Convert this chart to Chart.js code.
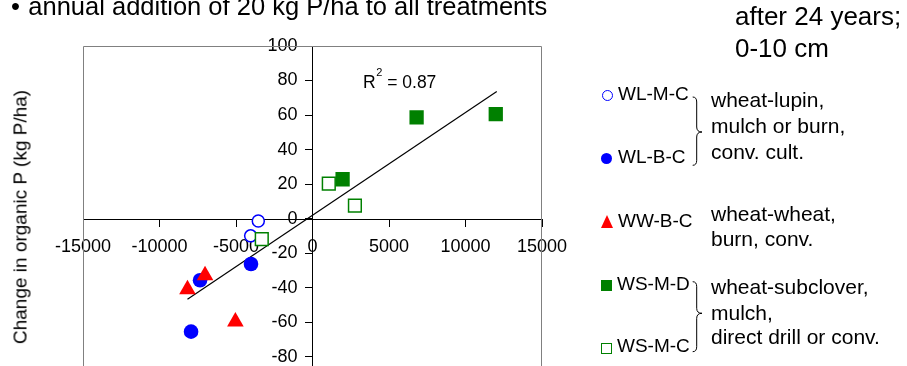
<!DOCTYPE html>
<html>
<head>
<meta charset="utf-8">
<script src="https://cdn.jsdelivr.net/npm/chart.js@4.4.0/dist/chart.umd.min.js"></script>
<style>
  html, body { margin: 0; padding: 0; background: #fff; overflow: hidden; }
  body { width: 907px; height: 366px; position: relative; font-family: "Liberation Sans", Arial, sans-serif; color: #000; }
  #wrap { position: absolute; left: 0; top: 0; width: 907px; height: 410px; }
  .t { position: absolute; white-space: nowrap; line-height: 1; }
  .lab { font-size: 19px; }
  .desc { font-size: 21px; }
  .big { font-size: 26px; }
  .mk { position: absolute; box-sizing: border-box; }
</style>
</head>
<body>
<div id="wrap"><canvas id="c" width="907" height="410"></canvas></div>

<!-- titles -->
<div class="t" style="left:11px; top:-6.2px; font-size:25.5px;">&bull;</div>
<div class="t" style="left:28.3px; top:-6.2px; font-size:25.5px;">annual addition of 20 kg P/ha to all treatments</div>
<div class="t big" style="left:735px; top:3px;">after 24 years;</div>
<div class="t big" style="left:735px; top:34.7px;">0-10 cm</div>

<!-- y axis title -->
<div class="t" style="left:20.1px; top:217px; font-size:19px; transform: translate(-50%,-50%) rotate(-90deg);">Change in organic P (kg P/ha)</div>

<!-- legend markers -->
<div class="mk" style="left:601.5px; top:90.3px; width:11px; height:11px; border:1.5px solid #0000ff; border-radius:50%; background:#fff;"></div>
<div class="mk" style="left:601.2px; top:152.5px; width:11px; height:11px; border-radius:50%; background:#0000ff;"></div>
<div class="mk" style="left:600.7px; top:215px; width:0; height:0; border-left:6.7px solid transparent; border-right:6.7px solid transparent; border-bottom:13.3px solid #ff0000;"></div>
<div class="mk" style="left:601px; top:280px; width:11px; height:11px; background:#008000;"></div>
<div class="mk" style="left:601px; top:342.5px; width:11px; height:11px; border:1.5px solid #008000; background:#fff;"></div>

<!-- legend labels -->
<div class="t lab" style="left:618px; top:84.2px;">WL-M-C</div>
<div class="t lab" style="left:618px; top:146.9px;">WL-B-C</div>
<div class="t lab" style="left:618px; top:210.6px;">WW-B-C</div>
<div class="t lab" style="left:617px; top:273.9px;">WS-M-D</div>
<div class="t lab" style="left:617px; top:335.6px;">WS-M-C</div>

<!-- braces -->
<svg style="position:absolute; left:0; top:0;" width="907" height="366">
  <path d="M692.7,97 Q696.7,97 696.7,102 L696.7,127 Q696.7,132 702,132 Q696.7,132 696.7,137 L696.7,160.3 Q696.7,165.3 692.7,165.3" fill="none" stroke="#000" stroke-width="1"/>
  <path d="M692.7,281.7 Q696.7,281.7 696.7,286.7 L696.7,308.3 Q696.7,313.3 702,313.3 Q696.7,313.3 696.7,318.3 L696.7,346.7 Q696.7,351.7 692.7,351.7" fill="none" stroke="#000" stroke-width="1"/>
</svg>

<!-- descriptions -->
<div class="t desc" style="left:711px; top:88.7px;">wheat-lupin,</div>
<div class="t desc" style="left:711px; top:114.7px;">mulch or burn,</div>
<div class="t desc" style="left:711px; top:140.5px;">conv. cult.</div>
<div class="t desc" style="left:711px; top:202.9px;">wheat-wheat,</div>
<div class="t desc" style="left:711px; top:228.2px;">burn, conv.</div>
<div class="t desc" style="left:711px; top:276.2px;">wheat-subclover,</div>
<div class="t desc" style="left:711px; top:301.5px;">mulch,</div>
<div class="t desc" style="left:711px; top:326.2px;">direct drill or conv.</div>

<script>
// change in total C (x) vs change in organic P (y)
const wlmcX = [-3543, -4043];
const wlmcY = [-1.4, -10.0];
const wlbcX = [-7350, -4020, -7937];
const wlbcY = [-35.7, -26.3, -65.5];
const wwbcX = [-7024, -8172, -5041];
const wwbcY = [-32.9, -41.0, -59.7];
const wsmdX = [1967, 6804, 11978];
const wsmdY = [22.8, 58.7, 60.5];
const wsmcX = [1065, 2772, -3315];
const wsmcY = [20.3, 7.5, -11.9];

// fitted line end points
const trendX = [-8172, 12043];
const trendY = [-46.7, 73.7];

const xTickValues = [-15000, -10000, -5000, 0, 5000, 10000, 15000];
const yTickValues = [-100, -80, -60, -40, -20, 0, 20, 40, 60, 80, 100];

const r2Label = { x: 3307, y: 75.8, base: 'R', sup: '2', rest: ' = 0.87' };

const FONT = '"Liberation Sans", Arial, sans-serif';
Chart.defaults.font.family = FONT;
Chart.defaults.color = '#000';

function pts(xs, ys) {
    return xs.map((x, i) => ({ x: x, y: ys[i] }));
}

const framePlugin = {
    id: 'frame',
    beforeDatasetsDraw(chart) {
        const { ctx, chartArea: a } = chart;
        ctx.save();
        ctx.strokeStyle = '#808080';
        ctx.lineWidth = 1;
        ctx.beginPath();
        ctx.moveTo(a.left + 0.5, a.bottom);
        ctx.lineTo(a.left + 0.5, a.top + 0.5);
        ctx.lineTo(a.right - 0.5, a.top + 0.5);
        ctx.lineTo(a.right - 0.5, a.bottom);
        ctx.stroke();
        ctx.restore();
    },
    afterDatasetsDraw(chart) {
        const ctx = chart.ctx;
        const x = chart.scales.x.getPixelForValue(r2Label.x);
        const y = chart.scales.y.getPixelForValue(r2Label.y);
        ctx.save();
        ctx.fillStyle = '#000';
        ctx.textBaseline = 'alphabetic';
        ctx.textAlign = 'left';
        ctx.font = '17.5px ' + FONT;
        ctx.fillText(r2Label.base, x, y);
        let w = ctx.measureText(r2Label.base).width + 0.5;
        ctx.font = '11px ' + FONT;
        ctx.fillText(r2Label.sup, x + w, y - 12);
        w += ctx.measureText(r2Label.sup).width;
        ctx.font = '17.5px ' + FONT;
        ctx.fillText(r2Label.rest, x + w, y);
        ctx.restore();
    }
};

const ctx = document.getElementById('c').getContext('2d');
new Chart(ctx, {
    type: 'scatter',
    data: {
        datasets: [
            {
                label: 'trend',
                data: pts(trendX, trendY),
                showLine: true,
                borderColor: '#000',
                borderWidth: 1.2,
                pointRadius: 0,
                tension: 0,
                order: 6
            },
            {
                label: 'WL-B-C',
                data: pts(wlbcX, wlbcY),
                pointStyle: 'circle',
                pointRadius: 7.3,
                pointBackgroundColor: '#0000ff',
                pointBorderWidth: 0,
                order: 5
            },
            {
                label: 'WL-M-C',
                data: pts(wlmcX, wlmcY),
                pointStyle: 'circle',
                pointRadius: 6,
                pointBackgroundColor: '#fff',
                pointBorderColor: '#0000ff',
                pointBorderWidth: 1.5,
                order: 4
            },
            {
                label: 'WW-B-C',
                data: pts(wwbcX, wwbcY),
                pointStyle: 'triangle',
                pointRadius: 9.6,
                pointBackgroundColor: '#ff0000',
                pointBorderWidth: 0,
                order: 3
            },
            {
                label: 'WS-M-C',
                data: pts(wsmcX, wsmcY),
                pointStyle: 'rect',
                pointRadius: 9,
                pointBackgroundColor: '#fff',
                pointBorderColor: '#008000',
                pointBorderWidth: 1.5,
                order: 2
            },
            {
                label: 'WS-M-D',
                data: pts(wsmdX, wsmdY),
                pointStyle: 'rect',
                pointRadius: 10.1,
                pointBackgroundColor: '#008000',
                pointBorderWidth: 0,
                order: 1
            }
        ]
    },
    options: {
        responsive: false,
        animation: false,
        events: [],
        layout: { padding: { left: 83, right: 365, top: 46, bottom: 17 } },
        plugins: {
            legend: { display: false },
            tooltip: { enabled: false }
        },
        scales: {
            // both ranges are symmetric, so 'center' puts each axis on the other's zero
            x: {
                type: 'linear',
                position: 'center',
                min: -15000,
                max: 15000,
                afterBuildTicks: (scale) => { scale.ticks = xTickValues.map(v => ({ value: v })); },
                grid: { drawOnChartArea: false, drawTicks: true, tickLength: 7, color: '#000' },
                border: { display: true, color: '#000', width: 1 },
                ticks: {
                    autoSkip: false,
                    maxRotation: 0,
                    padding: 11,
                    color: '#000',
                    font: { size: 18 },
                    callback: (v) => String(v)
                }
            },
            y: {
                type: 'linear',
                position: 'center',
                min: -100,
                max: 100,
                afterBuildTicks: (scale) => { scale.ticks = yTickValues.map(v => ({ value: v })); },
                grid: { drawOnChartArea: false, drawTicks: true, tickLength: 7, color: '#000' },
                border: { display: true, color: '#000', width: 1 },
                ticks: {
                    autoSkip: false,
                    padding: 8,
                    color: '#000',
                    font: { size: 18 },
                    callback: (v) => String(v)
                }
            }
        }
    },
    plugins: [framePlugin]
});
</script>
</body>
</html>
